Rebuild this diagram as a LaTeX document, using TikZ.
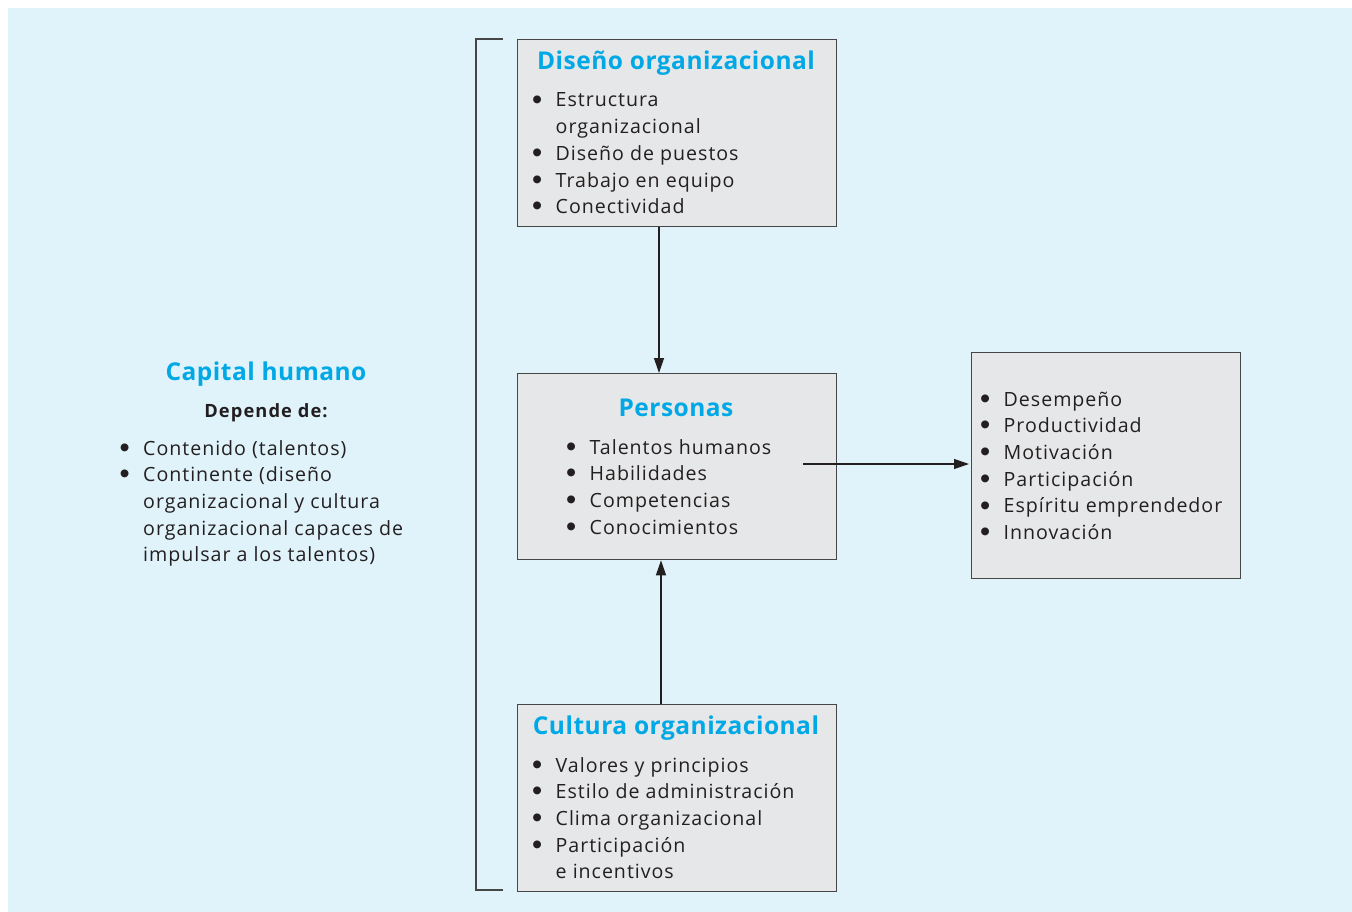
\documentclass[tikz,border=0pt]{standalone}
\usepackage{fontspec}
\setmainfont{Open Sans}
\newfontfamily\listfont[LetterSpace=5]{Open Sans}
\newfontfamily\titlefont[LetterSpace=2]{Open Sans}
\newfontfamily\subfont[LetterSpace=6]{Open Sans}
\newfontfamily\bulfont{Liberation Sans}
\usetikzlibrary{arrows.meta}
\definecolor{bgblue}{RGB}{224,243,250}
\definecolor{boxgray}{RGB}{230,231,232}
\definecolor{titlecyan}{RGB}{0,169,230}
\definecolor{txt}{RGB}{35,31,32}
\definecolor{edge}{RGB}{70,70,70}
\newlength{\bw}\setlength{\bw}{23.5pt}
\newcommand{\blist}[1]{\begin{tabular}[t]{@{}p{\bw}@{}l@{}}#1\end{tabular}}
\newcommand{\bu}{\raisebox{-2.2pt}{\scalebox{1.45}{\bulfont\fontsize{20}{26.7}\selectfont\textbullet}}}
\begin{document}
\begin{tikzpicture}[x=1pt,y=-1pt,
  box/.style={draw=edge, line width=1.3pt, fill=boxgray, inner sep=0pt, anchor=north west},
  ttl/.style={font=\titlefont\fontsize{24.5}{28}\selectfont\bfseries, text=titlecyan, anchor=base, inner sep=0pt},
  lst/.style={font=\listfont\fontsize{19.6}{26.7}\selectfont, text=txt, anchor=base west, inner sep=0pt},
  sub/.style={font=\subfont\fontsize{18.3}{22}\selectfont\bfseries, text=txt, anchor=base, inner sep=0pt},
  conn/.style={draw=txt, line width=1.2pt, -{Triangle[length=15pt,width=10pt]}},
  brk/.style={draw=edge, line width=1.3pt}]
\useasboundingbox (0,0) rectangle (1352,912);
\fill[bgblue] (8,8) rectangle (1352,912);
% bracket
\coordinate (bt) at (503,39);
\coordinate (bb) at (503,890);
\draw[brk] (bt) -- (476,39) -- (476,890) -- (bb);
% boxes
\node[box, minimum width=319pt, minimum height=187pt] (dis) at (517,39) {};
\node[box, minimum width=319pt, minimum height=186pt] (per) at (517,373) {};
\node[box, minimum width=319pt, minimum height=187pt] (cul) at (517,704) {};
\node[box, minimum width=269pt, minimum height=226pt] (res) at (971,352) {};
% titles
\node[ttl] (tdis) at (676,69.5) {Diseño organizacional};
\node[ttl] (tper) at (676,416.5) {Personas};
\node[ttl] (tcul) at (676,734.5) {Cultura organizacional};
\node[ttl] (tcap) at (266,380.5) {Capital humano};
\node[sub] (tdep) at (266,417.5) {Depende de:};
% lists
\node[lst] (ldis) at (532,107) {\blist{\bu & Estructura\\ & organizacional\\ \bu & Diseño de puestos\\ \bu & Trabajo en equipo\\ \bu & Conectividad}};
\node[lst] (lper) at (566,454) {\blist{\bu & Talentos humanos\\ \bu & Habilidades\\ \bu & Competencias\\ \bu & Conocimientos}};
\node[lst] (lcul) at (532,772) {\blist{\bu & Valores y principios\\ \bu & Estilo de administración\\ \bu & Clima organizacional\\ \bu & Participación\\ & e incentivos}};
\node[lst] (lres) at (980,406) {\blist{\bu & Desempeño\\ \bu & Productividad\\ \bu & Motivación\\ \bu & Participación\\ \bu & Espíritu emprendedor\\ \bu & Innovación}};
\node[lst] (lcap) at (119.5,455) {\blist{\bu & Contenido (talentos)\\ \bu & Continente (diseño\\ & organizacional y cultura\\ & organizacional capaces de\\ & impulsar a los talentos)}};
% connectors
\coordinate (xa) at (659,0);
\coordinate (xb) at (661,0);
\coordinate (rs) at (803,464);
\draw[conn] (xa |- dis.south) -- (xa |- per.north);
\draw[conn] (xb |- cul.north) -- (xb |- per.south);
\draw[conn, shorten >=2pt] (rs) -- (rs -| res.west);
\end{tikzpicture}
\end{document}
